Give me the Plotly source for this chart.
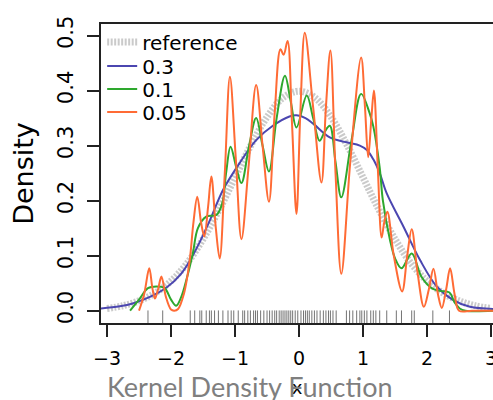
import plotly.graph_objects as go

# ---- data ----
ref_x = [-3.0, -2.75, -2.5, -2.25, -2.0, -1.75, -1.5, -1.25, -1.0, -0.75, -0.5, -0.25, 0.0,
         0.25, 0.5, 0.75, 1.0, 1.25, 1.5, 1.75, 2.0, 2.25, 2.5, 2.75, 3.0]
ref_y = [0.004, 0.009, 0.018, 0.032, 0.054, 0.086, 0.130, 0.183, 0.242, 0.301, 0.352, 0.387, 0.399,
         0.387, 0.352, 0.301, 0.242, 0.183, 0.130, 0.086, 0.054, 0.032, 0.018, 0.009, 0.004]

bw03_x = [-3.10, -2.80, -2.60, -2.33, -2.07, -1.85, -1.70, -1.55, -1.39, -1.19, -0.93, -0.67, -0.41,
          -0.15, -0.04, 0.10, 0.22, 0.48, 0.74, 0.95, 1.06, 1.16, 1.26, 1.37, 1.63, 1.89, 2.15,
          2.41, 2.67, 3.05]
bw03_y = [0.004, 0.008, 0.013, 0.025, 0.042, 0.066, 0.092, 0.125, 0.165, 0.219, 0.268, 0.310, 0.336,
          0.353, 0.355, 0.350, 0.340, 0.315, 0.306, 0.300, 0.292, 0.275, 0.250, 0.213, 0.153, 0.092,
          0.044, 0.019, 0.007, 0.003]

bw01_x = [-2.64, -2.50, -2.36, -2.23, -2.10, -2.00, -1.92, -1.84, -1.76, -1.66, -1.58, -1.45, -1.29,
          -1.20, -1.14, -1.07, -0.98, -0.90, -0.78, -0.67, -0.57, -0.47, -0.35, -0.22, -0.13, -0.04,
          0.12, 0.22, 0.32, 0.40, 0.48, 0.57, 0.66, 0.82, 0.97, 1.10, 1.16, 1.26, 1.31, 1.42, 1.50,
          1.60, 1.76, 1.91, 2.07, 2.20, 2.35, 2.43, 2.51, 2.60, 3.05]
bw01_y = [0.000, 0.020, 0.041, 0.044, 0.041, 0.020, 0.009, 0.025, 0.056, 0.104, 0.150, 0.171, 0.174,
          0.195, 0.250, 0.298, 0.260, 0.232, 0.300, 0.350, 0.300, 0.253, 0.350, 0.427, 0.380, 0.333,
          0.391, 0.350, 0.309, 0.325, 0.336, 0.270, 0.206, 0.310, 0.394, 0.360, 0.335, 0.260, 0.200,
          0.129, 0.095, 0.077, 0.104, 0.062, 0.041, 0.036, 0.033, 0.015, 0.004, 0.000, 0.000]

bw005_x = [-2.50, -2.42, -2.34, -2.29, -2.25, -2.20, -2.15, -2.08, -2.00, -1.95, -1.89, -1.80, -1.71,
           -1.65, -1.59, -1.53, -1.48, -1.42, -1.37, -1.30, -1.24, -1.16, -1.08, -0.99, -0.90, -0.79,
           -0.67, -0.57, -0.47, -0.38, -0.29, -0.24, -0.18, -0.11, -0.04, 0.02, 0.09, 0.22, 0.35,
           0.42, 0.49, 0.57, 0.66, 0.80, 0.97, 1.03, 1.08, 1.13, 1.17, 1.23, 1.29, 1.33, 1.38, 1.48,
           1.61, 1.69, 1.76, 1.85, 1.95, 2.03, 2.10, 2.17, 2.23, 2.30, 2.36, 2.43, 2.50, 2.70, 3.05]
bw005_y = [0.000, 0.030, 0.077, 0.040, 0.022, 0.040, 0.062, 0.025, 0.002, 0.000, 0.003, 0.030, 0.090,
           0.160, 0.207, 0.160, 0.135, 0.190, 0.244, 0.150, 0.095, 0.250, 0.425, 0.280, 0.130, 0.260,
           0.410, 0.300, 0.198, 0.360, 0.475, 0.465, 0.490, 0.340, 0.176, 0.360, 0.505, 0.370, 0.233,
           0.370, 0.473, 0.250, 0.067, 0.270, 0.460, 0.370, 0.279, 0.350, 0.400, 0.260, 0.133, 0.160,
           0.180, 0.100, 0.035, 0.100, 0.148, 0.070, 0.007, 0.040, 0.076, 0.030, 0.005, 0.040, 0.077,
           0.030, 0.000, 0.000, 0.000]

rug = [-2.36, -2.13, -1.70, -1.63, -1.55, -1.52, -1.45, -1.40, -1.37, -1.32, -1.26, -1.19, -1.11,
       -1.06, -1.02, -0.95, -0.88, -0.85, -0.80, -0.76, -0.71, -0.68, -0.65, -0.60, -0.55, -0.50,
       -0.46, -0.42, -0.38, -0.35, -0.31, -0.28, -0.25, -0.22, -0.19, -0.16, -0.13, -0.10, -0.06,
       -0.02, 0.03, 0.07, 0.10, 0.13, 0.16, 0.20, 0.24, 0.28, 0.33, 0.38, 0.42, 0.46, 0.49, 0.53,
       0.58, 0.74, 0.79, 0.84, 0.90, 0.95, 0.98, 1.02, 1.06, 1.12, 1.16, 1.20, 1.26, 1.37, 1.52,
       1.60, 1.76, 1.80, 2.09, 2.35]

x_ticks = [-3, -2, -1, 0, 1, 2, 3]
x_tick_labels = ["\u22123", "\u22122", "\u22121", "0", "1", "2", "3"]
y_ticks = [0.0, 0.1, 0.2, 0.3, 0.4, 0.5]
y_tick_labels = ["0.0", "0.1", "0.2", "0.3", "0.4", "0.5"]

FONT = "DejaVu Sans"
PLOT_TOP, PLOT_H, PLOT_L, PLOT_W = 24, 299, 101, 392

fig = go.Figure()

fig.add_trace(go.Scatter(x=rug, y=[-0.011] * len(rug), mode="markers", showlegend=False,
                         hoverinfo="skip",
                         marker=dict(symbol="line-ns-open", size=9, color="rgba(0,0,0,0.55)",
                                     line=dict(width=1, color="rgba(0,0,0,0.55)"))))

series = [
    ("reference", ref_x, ref_y, dict(color="rgba(150,150,150,0.5)", width=7, dash="2px,1.5px")),
    ("0.3", bw03_x, bw03_y, dict(color="#4b46b0", width=2)),
    ("0.1", bw01_x, bw01_y, dict(color="#2ea82e", width=2)),
    ("0.05", bw005_x, bw005_y, dict(color="#ff6b35", width=2)),
]
legend_rows_px = [42, 66, 89, 112]

layout_legends = {}
for i, (name, xs, ys, line) in enumerate(series):
    lg = "legend" if i == 0 else f"legend{i + 1}"
    fig.add_trace(go.Scatter(x=xs, y=ys, mode="lines", name=name, line_shape="spline",
                             line=line, legend=lg))
    layout_legends[lg] = dict(x=0.003, y=(PLOT_TOP + PLOT_H - legend_rows_px[i]) / PLOT_H,
                              xanchor="left", yanchor="middle",
                              bgcolor="rgba(255,255,255,0)",
                              font=dict(family=FONT, size=20, color="black"))

fig.update_layout(
    width=493, height=400,
    margin=dict(l=PLOT_L, r=0, t=PLOT_TOP, b=400 - PLOT_TOP - PLOT_H),
    paper_bgcolor="white", plot_bgcolor="white",
    font=dict(family=FONT, color="black"),
    annotations=[dict(text="Kernel Density Function", xref="paper", yref="paper",
                      x=(250 - PLOT_L) / PLOT_W, y=(PLOT_TOP + PLOT_H - 386) / PLOT_H,
                      xanchor="center", yanchor="middle",
                      showarrow=False, font=dict(family="Lato", size=27, color="#7f7f7f"))],
    **layout_legends,
)

fig.update_xaxes(range=[-3.094, 3.03], tickvals=x_ticks, ticktext=x_tick_labels,
                 showline=True, linecolor="#222", linewidth=2, mirror=True,
                 ticks="outside", ticklen=12, tickwidth=1.5, tickcolor="#222",
                 showgrid=False, zeroline=False, tickfont=dict(family=FONT, size=19),
                 ticklabelstandoff=5, automargin=False, ticklabeloverflow="allow",
                 title=dict(text="x", font=dict(family=FONT, size=18), standoff=14))
fig.update_yaxes(range=[-0.0224, 0.521], tickvals=y_ticks, ticktext=y_tick_labels,
                 showline=True, linecolor="#222", linewidth=2,
                 ticks="outside", ticklen=12, tickwidth=1.5, tickcolor="#222",
                 tickangle=-90, showgrid=False, zeroline=False,
                 tickfont=dict(family=FONT, size=21), ticklabelstandoff=6, automargin=False,
                 title=dict(text="Density", font=dict(family=FONT, size=27), standoff=12))

fig.write_html("out.html", config={"displayModeBar": False},
               post_script="document.body.style.margin='0';document.body.style.overflow='hidden';")
